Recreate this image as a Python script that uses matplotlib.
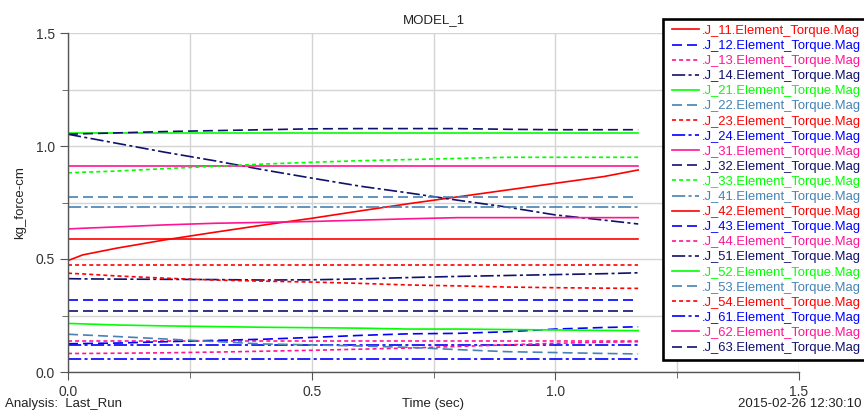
import matplotlib
matplotlib.use("Agg")
import matplotlib.pyplot as plt
from matplotlib.ticker import MultipleLocator
from matplotlib.patches import Rectangle

plt.rcParams['font.family'] = ['Liberation Sans', 'DejaVu Sans']
plt.rcParams['lines.scale_dashes'] = False

# ---------------- data ----------------
time_s = [0.0, 0.03, 0.1, 0.2, 0.3, 0.4, 0.5, 0.6, 0.7, 0.8, 0.9, 1.0, 1.1, 1.17]

names = ["J_11", "J_12", "J_13", "J_14", "J_21", "J_22", "J_23", "J_24",
         "J_31", "J_32", "J_33", "J_41", "J_42", "J_43", "J_44", "J_51",
         "J_52", "J_53", "J_54", "J_61", "J_62", "J_63"]

J_11 = [0.493, 0.518, 0.548, 0.585, 0.618, 0.650, 0.680, 0.713, 0.745, 0.775, 0.805, 0.835, 0.865, 0.894]
J_12 = [0.320] * 14
J_13 = [0.135] * 14
J_14 = [1.052, 1.040, 1.012, 0.972, 0.935, 0.895, 0.858, 0.822, 0.792, 0.760, 0.730, 0.695, 0.672, 0.655]
J_21 = [1.059] * 14
J_22 = [0.775] * 14
J_23 = [0.473] * 14
J_24 = [0.120] * 14
J_31 = [0.910] * 14
J_32 = [1.052, 1.054, 1.058, 1.064, 1.068, 1.072, 1.076, 1.077, 1.077, 1.077, 1.074, 1.072, 1.072, 1.072]
J_33 = [0.881, 0.884, 0.889, 0.900, 0.910, 0.920, 0.928, 0.935, 0.940, 0.945, 0.950, 0.950, 0.950, 0.950]
J_41 = [0.732] * 14
J_42 = [0.587] * 14
J_43 = [0.125, 0.126, 0.128, 0.134, 0.140, 0.145, 0.153, 0.162, 0.169, 0.171, 0.178, 0.190, 0.197, 0.200]
J_44 = [0.082, 0.082, 0.083, 0.085, 0.088, 0.092, 0.096, 0.101, 0.106, 0.113, 0.120, 0.127, 0.132, 0.134]
J_51 = [0.413, 0.412, 0.411, 0.410, 0.409, 0.407, 0.408, 0.412, 0.418, 0.423, 0.427, 0.431, 0.435, 0.439]
J_52 = [0.215, 0.213, 0.208, 0.204, 0.201, 0.198, 0.196, 0.194, 0.190, 0.190, 0.188, 0.186, 0.184, 0.183]
J_53 = [0.167, 0.164, 0.157, 0.146, 0.135, 0.124, 0.120, 0.115, 0.109, 0.099, 0.090, 0.086, 0.082, 0.080]
J_54 = [0.437, 0.434, 0.425, 0.415, 0.407, 0.402, 0.398, 0.392, 0.385, 0.381, 0.376, 0.373, 0.371, 0.370]
J_61 = [0.057] * 14
J_62 = [0.633, 0.636, 0.642, 0.651, 0.658, 0.662, 0.666, 0.672, 0.678, 0.683, 0.683, 0.683, 0.683, 0.683]
J_63 = [0.271] * 14

series = [J_11, J_12, J_13, J_14, J_21, J_22, J_23, J_24, J_31, J_32, J_33,
          J_41, J_42, J_43, J_44, J_51, J_52, J_53, J_54, J_61, J_62, J_63]

x_ticks = [0.0, 0.5, 1.0, 1.5]
y_ticks = [0.0, 0.5, 1.0, 1.5]

# ---------------- style ----------------
colors = ['#FF0000', '#0000FF', '#FF1493', '#10106E', '#00FF00', '#4682B4']
styles = ['-', (0, (7.2, 3.6)), (0, (2.9, 2.2)), (0, (9.5, 2.4, 2.2, 2.4))]

W, H = 864, 412
fig = plt.figure(figsize=(W / 100, H / 100), dpi=100)
ax = fig.add_axes([68 / W, 40 / H, (799 - 68) / W, (372 - 33) / H])

lines = []
for i, (nm, vals) in enumerate(zip(names, series)):
    ln, = ax.plot(time_s, vals, color=colors[i % 6], linestyle=styles[i % 4],
                  linewidth=1.2, label='.' + nm + '.Element_Torque.Mag')
    lines.append(ln)

ax.set_xlim(0, 1.5)
ax.set_ylim(0, 1.5)
ax.set_xticks(x_ticks)
ax.set_yticks(y_ticks)
ax.xaxis.set_minor_locator(MultipleLocator(0.25))
ax.yaxis.set_minor_locator(MultipleLocator(0.25))
ax.grid(True, which='both', color='#d4d4d4', linewidth=1.0)
ax.set_axisbelow(True)
for s in ['top', 'right']:
    ax.spines[s].set_visible(False)
for s in ['left', 'bottom']:
    ax.spines[s].set_color('#555555')
    ax.spines[s].set_linewidth(1.0)
ax.tick_params(which='major', direction='out', length=6, color='#555555',
               labelsize=10, labelcolor='#333333')
ax.tick_params(which='minor', direction='out', length=4, color='#555555')

ax.set_title('MODEL_1', fontsize=9.5, color='#222222', pad=7)
ax.set_ylabel('kg_force-cm', fontsize=9.5, color='#222222', labelpad=7)
fig.text(433 / W, 1 - 404 / H, 'Time (sec)', ha='center', va='center', fontsize=9.5, color='#222222')
fig.text(5 / W, 1 - 404 / H, 'Analysis:  Last_Run', ha='left', va='center', fontsize=9.5, color='#222222')
fig.text(861 / W, 1 - 404 / H, '2015-02-26 12:30:10', ha='right', va='center', fontsize=9.5, color='#222222')

# legend frame (extends beyond the right edge of the figure)
frame = Rectangle((663 / W, 1 - 360 / H), (900 - 663) / W, (360 - 19) / H,
                  transform=fig.transFigure, facecolor='white', edgecolor='black',
                  linewidth=1.9, zorder=4, clip_on=False)
fig.patches.append(frame)

LEG_FS = 9.4
fs_px = LEG_FS * 100 / 72.0
target_first = 31.0   # px from top, centre of first row
target_pitch = 15.1   # px between rows
target_text_x = 702.0

spacing = 0.2
anchor_x, anchor_top = 666.0, 22.0
leg = None
for _ in range(4):
    if leg is not None:
        leg.remove()
    leg = fig.legend(handles=lines, loc='upper left',
                     bbox_to_anchor=(anchor_x / W, 1 - anchor_top / H),
                     bbox_transform=fig.transFigure, borderaxespad=0,
                     fontsize=LEG_FS, frameon=False,
                     handlelength=2.1, handletextpad=0.2, labelspacing=spacing,
                     borderpad=0.2)
    leg.set_zorder(5)
    fig.canvas.draw()
    r = fig.canvas.get_renderer()
    exts = [t.get_window_extent(r) for t in leg.get_texts()]
    ys = [H - (e.y0 + e.y1) / 2 for e in exts]
    pitch = (ys[-1] - ys[0]) / (len(ys) - 1)
    spacing += (target_pitch - pitch) / fs_px
    anchor_top += target_first - ys[0]
    anchor_x += target_text_x - exts[0].x0

for txt, ln in zip(leg.get_texts(), lines):
    txt.set_color(ln.get_color())

fig.savefig('out.png', dpi=100)
